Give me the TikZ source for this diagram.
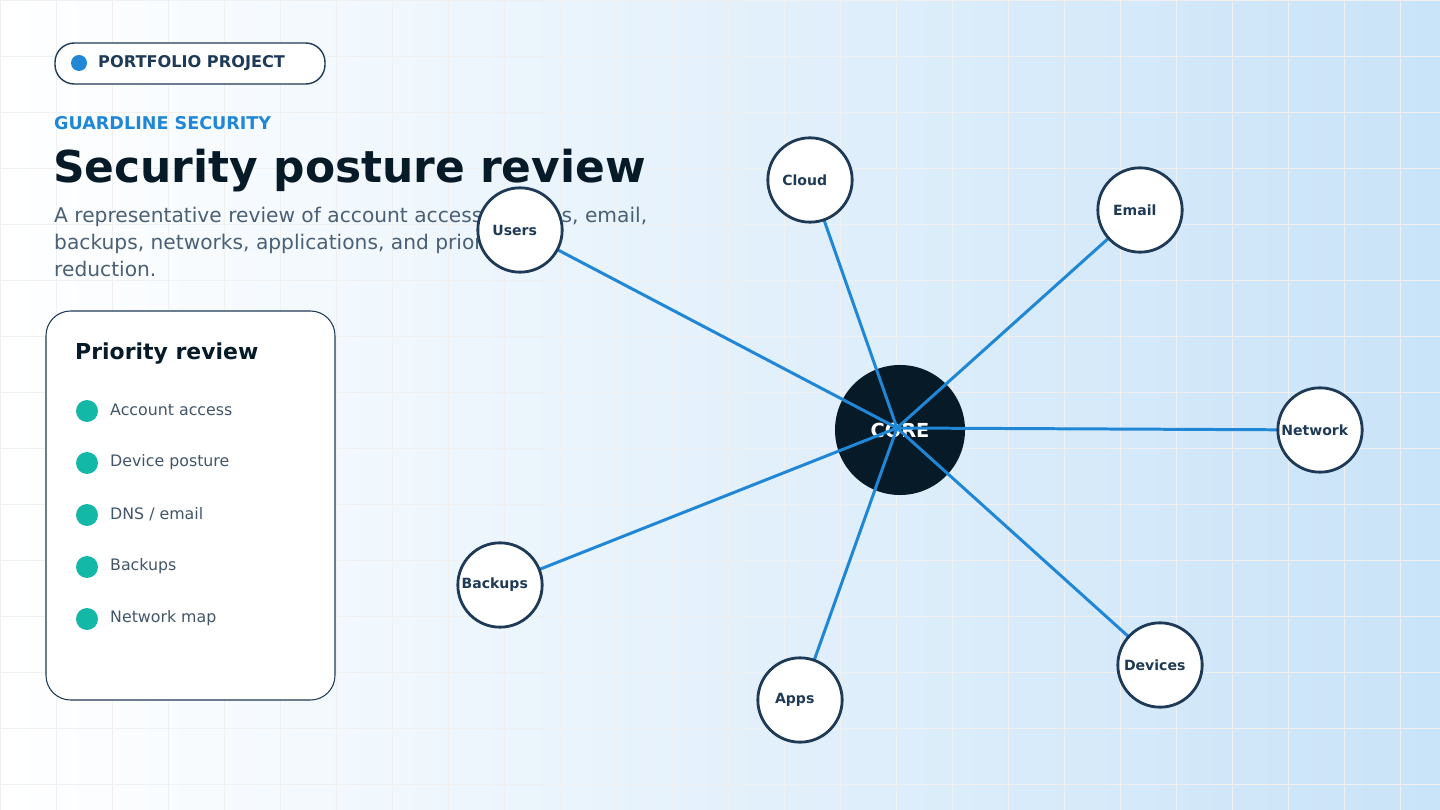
\documentclass[tikz,border=0pt]{standalone}
\usepackage{fontspec}
\setmainfont{DejaVu Sans}
\usetikzlibrary{positioning}
\definecolor{inkdark}{HTML}{061A28}
\definecolor{navy}{HTML}{1E3A56}
\definecolor{linkblue}{HTML}{1F87D6}
\definecolor{teal}{HTML}{14B8A6}
\definecolor{slate}{HTML}{4A6075}
\definecolor{skyblue}{HTML}{C9E3F8}
\tikzset{
  sat/.style={circle,draw=navy,line width=1.6pt,fill=white,minimum size=48pt,inner sep=0pt,
    font=\fontsize{8}{10}\selectfont\bfseries,text=navy},
  link/.style={draw=linkblue,line width=1.7pt},
  bullet/.style={circle,fill=teal,minimum size=12.5pt,inner sep=0pt},
  item/.style={right,font=\fontsize{9}{11}\selectfont,text=slate!90!black}
}
\begin{document}
\begin{tikzpicture}[x=0.02cm,y=-0.02cm]
\useasboundingbox (0,0) rectangle (1440,810);

% Background and grid
\shade[left color=white,right color=skyblue] (0,0) rectangle (1440,810);
\foreach \x in {0,56,...,1440} \draw[black!6,line width=0.4pt] (\x,0) -- (\x,810);
\foreach \y in {0,56,...,810} \draw[black!6,line width=0.4pt] (0,\y) -- (1440,\y);

% Header
\draw[navy,fill=white,line width=0.8pt,rounded corners=11pt] (55,43) rectangle (325,84);
\fill[linkblue] (79,63) circle (8);
\node[right,font=\fontsize{9.2}{11}\selectfont\bfseries,text=navy] (tag) at (92,63) {PORTFOLIO PROJECT};
\node[right,font=\fontsize{10}{12}\selectfont\bfseries,text=linkblue] (brand) at (48,123) {GUARDLINE SECURITY};
\node[right,font=\fontsize{25}{30}\selectfont\bfseries,text=inkdark] (title) at (47,171) {Security posture review};
\node[right,align=left,font=\fontsize{11.5}{15.3}\selectfont,text=slate] (sub) at (48,242)
  {A representative review of account access, devices, email,\\backups, networks, applications, and priority risk\\reduction.};

% Priority card
\draw[navy,fill=white,line width=0.6pt,rounded corners=14pt] (46,311) rectangle (335,700);
\node[right,font=\fontsize{12.5}{15}\selectfont\bfseries,text=inkdark] (cardtitle) at (69,354) {Priority review};
\foreach \t [count=\i] in {Account access,Device posture,DNS / email,Backups,Network map} {
  \node[bullet] (b\i) at (87,359+52*\i) {};
  \node[item] at (104,358+52*\i) {\t};
}

% Hub and spokes
\node[circle,fill=inkdark,minimum size=74pt,inner sep=0pt,text=white,
  font=\fontsize{11}{13}\selectfont\bfseries] (core) at (900,430) {CORE};
\coordinate (hub) at (897,428);
\foreach \n/\x/\y in {cloud/810/180,email/1140/210,network/1320/430,
    devices/1160/665,apps/800/700,backups/500/585,users/520/230}
  \coordinate (\n) at (\x,\y);
\foreach \n in {cloud,email,network,devices,apps,backups,users}
  \draw[link] (hub) -- (\n);
\foreach \n/\l in {cloud/Cloud,email/Email,network/Network,devices/Devices,apps/Apps,backups/Backups,users/Users}
  \node[sat] (\n-node) at (\n) {\hspace*{-6pt}\l};

\end{tikzpicture}
\end{document}
